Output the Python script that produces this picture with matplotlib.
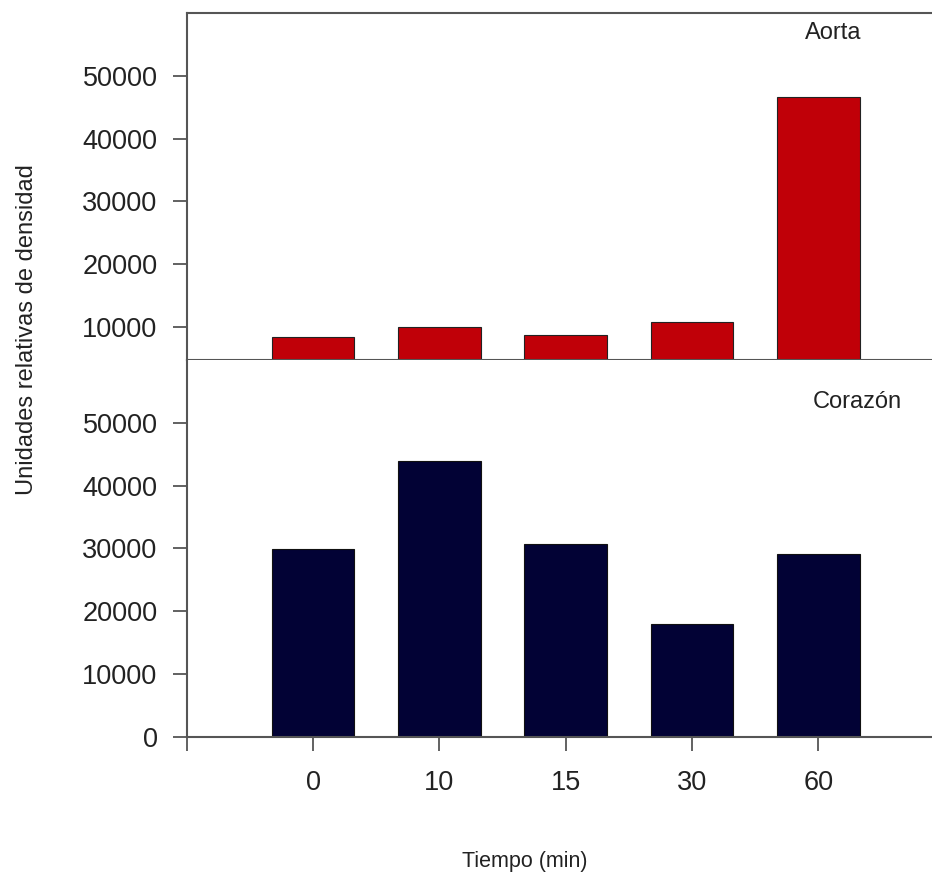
import numpy as np
import matplotlib.pyplot as plt

plt.rcParams['font.family'] = ['Liberation Sans', 'DejaVu Sans']

# tiempos de muestreo y densidades relativas
tiempos = ['0', '10', '15', '30', '60']
aorta = [8400, 9900, 8670, 10790, 46650]
corazon = [29840, 43950, 30690, 17950, 29090]

rojo = '#c00008'
azul = '#020235'
gris = '#555555'

fig = plt.figure(figsize=(9.32, 8.82), dpi=100)
ax1 = fig.add_axes([0.2003, 0.5918, 0.7997, 0.3934])
ax2 = fig.add_axes([0.2003, 0.1647, 0.7997, 0.4271])

x = np.arange(len(tiempos))

ax1.bar(x, aorta, width=0.655, color=rojo, edgecolor='#222222', linewidth=0.8, zorder=2)
ax2.bar(x, corazon, width=0.655, color=azul, edgecolor='#111111', linewidth=0.8, zorder=2)

for ax in (ax1, ax2):
    ax.set_xlim(-1, 4.9)
    ax.spines['right'].set_visible(False)
    for s in ('left', 'bottom', 'top'):
        ax.spines[s].set_color(gris)
        ax.spines[s].set_linewidth(1.5)
    ax.tick_params(axis='y', direction='out', length=10, width=1.3, color=gris,
                   labelsize=19.5, labelcolor='#222222', pad=11)

ax1.set_ylim(4700, 60000)
ax1.set_yticks([10000, 20000, 30000, 40000, 50000])
ax1.set_xticks([])
ax1.spines['top'].set_visible(True)

ax2.set_ylim(0, 60000)
ax2.set_yticks([0, 10000, 20000, 30000, 40000, 50000])
ax2.spines['top'].set_visible(False)
ax2.set_xticks(np.arange(-1, len(tiempos)))
ax2.set_xticklabels([''] + tiempos)
ax2.tick_params(axis='x', direction='out', length=10, width=1.3, color=gris,
                labelsize=19.5, labelcolor='#222222', pad=14)

ax1.text(833 / 932, 1 - 33 / 882, 'Aorta', transform=fig.transFigure,
         ha='center', va='center', fontsize=17, color='#222222')
ax2.text(857 / 932, 1 - 402 / 882, 'Corazón', transform=fig.transFigure,
         ha='center', va='center', fontsize=17, color='#222222')

fig.text(525 / 932, 1 - 862 / 882, 'Tiempo (min)', ha='center', va='center',
         fontsize=15.5, color='#222222')
fig.text(27 / 932, 1 - 330 / 882, 'Unidades relativas de densidad', rotation=90,
         ha='center', va='center', fontsize=17, color='#222222')

fig.savefig('out.png', dpi=100)
